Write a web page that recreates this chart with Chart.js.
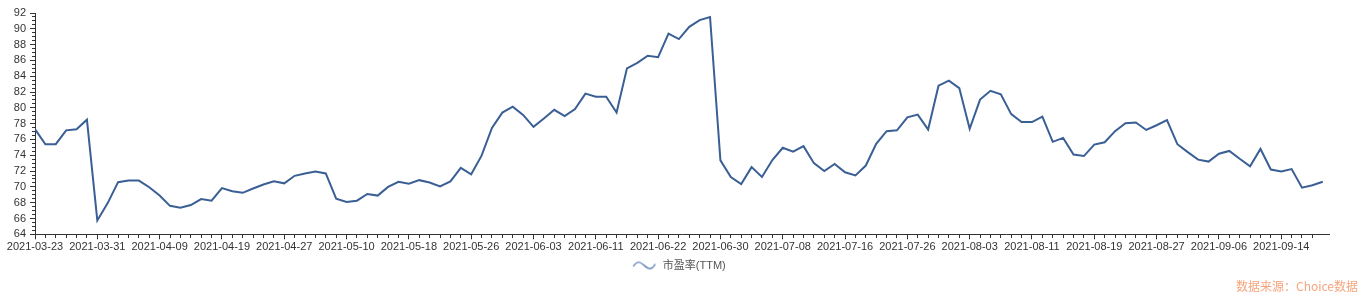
<!DOCTYPE html>
<html>
<head>
<meta charset="utf-8">
<script src="https://cdn.jsdelivr.net/npm/chart.js@4.4.0/dist/chart.umd.min.js"></script>
<style>
  html, body { margin: 0; padding: 0; background: #fff; }
  #wrap { position: relative; width: 1359px; height: 293px; }
  #source {
    position: absolute; right: 1px; top: 278px;
    font: 12px "Noto Sans CJK SC", "Liberation Sans", sans-serif;
    color: #f5a57c; line-height: 16px;
  }
</style>
</head>
<body>
<div id="wrap">
  <canvas id="peChart" width="1359" height="293"></canvas>
  <div id="source">数据来源：Choice数据</div>
</div>
<script>
// ================= DATA =================
const dates = [
  "2021-03-23", "2021-03-24", "2021-03-25", "2021-03-26", "2021-03-29", "2021-03-30", "2021-03-31",
  "2021-04-01", "2021-04-02", "2021-04-06", "2021-04-07", "2021-04-08", "2021-04-09",
  "2021-04-12", "2021-04-13", "2021-04-14", "2021-04-15", "2021-04-16", "2021-04-19",
  "2021-04-20", "2021-04-21", "2021-04-22", "2021-04-23", "2021-04-26", "2021-04-27",
  "2021-04-28", "2021-04-29", "2021-04-30", "2021-05-06", "2021-05-07", "2021-05-10",
  "2021-05-11", "2021-05-12", "2021-05-13", "2021-05-14", "2021-05-17", "2021-05-18",
  "2021-05-19", "2021-05-20", "2021-05-21", "2021-05-24", "2021-05-25", "2021-05-26",
  "2021-05-27", "2021-05-28", "2021-05-31", "2021-06-01", "2021-06-02", "2021-06-03",
  "2021-06-04", "2021-06-07", "2021-06-08", "2021-06-09", "2021-06-10", "2021-06-11",
  "2021-06-15", "2021-06-16", "2021-06-17", "2021-06-18", "2021-06-21", "2021-06-22",
  "2021-06-23", "2021-06-24", "2021-06-25", "2021-06-28", "2021-06-29", "2021-06-30",
  "2021-07-01", "2021-07-02", "2021-07-05", "2021-07-06", "2021-07-07", "2021-07-08",
  "2021-07-09", "2021-07-12", "2021-07-13", "2021-07-14", "2021-07-15", "2021-07-16",
  "2021-07-19", "2021-07-20", "2021-07-21", "2021-07-22", "2021-07-23", "2021-07-26",
  "2021-07-27", "2021-07-28", "2021-07-29", "2021-07-30", "2021-08-02", "2021-08-03",
  "2021-08-04", "2021-08-05", "2021-08-06", "2021-08-09", "2021-08-10", "2021-08-11",
  "2021-08-12", "2021-08-13", "2021-08-16", "2021-08-17", "2021-08-18", "2021-08-19",
  "2021-08-20", "2021-08-23", "2021-08-24", "2021-08-25", "2021-08-26", "2021-08-27",
  "2021-08-30", "2021-08-31", "2021-09-01", "2021-09-02", "2021-09-03", "2021-09-06",
  "2021-09-07", "2021-09-08", "2021-09-09", "2021-09-10", "2021-09-13", "2021-09-14",
  "2021-09-15", "2021-09-16", "2021-09-17", "2021-09-22"
];

const peTTM = [
  77.3, 75.4, 75.4, 77.15, 77.3, 78.5, 65.75,
  67.95, 70.6, 70.8, 70.8, 69.95, 68.9,
  67.6, 67.35, 67.7, 68.45, 68.25, 69.85,
  69.45, 69.25, 69.8, 70.3, 70.7, 70.45,
  71.4, 71.7, 71.95, 71.7, 68.5, 68.1,
  68.25, 69.1, 68.9, 70.0, 70.65, 70.4,
  70.85, 70.55, 70.05, 70.7, 72.4, 71.6,
  73.95, 77.45, 79.4, 80.15, 79.1, 77.6,
  78.65, 79.75, 78.95, 79.85, 81.8, 81.4,
  81.4, 79.4, 85.0, 85.7, 86.6, 86.4,
  89.4, 88.7, 90.25, 91.1, 91.5, 73.35,
  71.25, 70.35, 72.5, 71.25, 73.4, 74.95,
  74.45, 75.15, 73.0, 72.0, 72.9, 71.85,
  71.45, 72.7, 75.45, 77.05, 77.15, 78.8,
  79.15, 77.25, 82.8, 83.45, 82.5, 77.35,
  81.05, 82.15, 81.7, 79.2, 78.2, 78.2,
  78.9, 75.7, 76.2, 74.1, 73.9, 75.35,
  75.65, 77.05, 78.05, 78.15, 77.2, 77.8,
  78.45, 75.4, 74.4, 73.45, 73.2, 74.2,
  74.55, 73.55, 72.6, 74.8, 72.2, 71.95,
  72.25, 69.9, 70.2, 70.65
];

const seriesName = "市盈率(TTM)";
const yMin = 64;
const yMax = 92;
const yLabelStep = 2;      // labelled ticks
const yMinorStep = 0.5;    // small ticks
const xLabelEvery = 6;     // every 6th trading day gets a date

// ================= STYLE =================
const lineColor = "#3a5f95";
const axisColor = "#333";
const fontFamily = '"Liberation Sans", Arial, "Noto Sans CJK SC", sans-serif';

// wave icon for the legend (drawn in the right part of a wider box,
// so the legend row sits where the original has it)
const wave = document.createElement("canvas");
wave.width = 52;
wave.height = 10;
(function () {
  const c = wave.getContext("2d");
  c.strokeStyle = "#4a6fa5";
  c.lineWidth = 1.2;
  c.beginPath();
  c.moveTo(29, 6);
  c.bezierCurveTo(33, -0.5, 36, 1.5, 40, 5);
  c.bezierCurveTo(44, 8.5, 47, 10.5, 51, 3.5);
  c.stroke();
})();

const points = peTTM.map((v, i) => ({ x: i, y: v }));

// ================= CHART =================
new Chart(document.getElementById("peChart"), {
  type: "line",
  data: {
    datasets: [
      {
        label: seriesName,
        data: points,
        borderColor: lineColor,
        borderWidth: 2,
        pointRadius: 0,
        tension: 0,
        fill: false,
      },
    ],
  },
  options: {
    responsive: false,
    animation: false,
    layout: { padding: { top: 13, right: 30, bottom: 12, left: 0 } },
    plugins: {
      tooltip: { enabled: false },
      legend: {
        position: "bottom",
        labels: {
          usePointStyle: true,
          pointStyle: wave,
          pointStyleWidth: 54,
          padding: 8,
          color: "#555",
          font: { family: fontFamily, size: 11 },
        },
      },
    },
    scales: {
      x: {
        type: "linear",
        min: 0,
        max: dates.length - 1 + 0.6,
        afterBuildTicks: (scale) => {
          scale.ticks = scale.ticks.filter((t) => Number.isInteger(t.value));
        },
        afterFit: (scale) => {
          scale.height = scale.height - 2.5;
        },
        border: { color: axisColor, width: 1 },
        grid: {
          drawOnChartArea: false,
          tickLength: 5,
          tickColor: axisColor,
          tickBorderDash: (ctx) =>
            ctx.tick && ctx.tick.value % xLabelEvery === 0 ? [] : [3, 10],
        },
        ticks: {
          stepSize: 1,
          maxTicksLimit: 1000,
          autoSkip: false,
          maxRotation: 0,
          padding: 1,
          color: axisColor,
          font: { family: fontFamily, size: 11 },
          callback: (v) => (v % xLabelEvery === 0 ? dates[v] : ""),
        },
      },
      y: {
        min: yMin,
        max: yMax,
        afterFit: (scale) => {
          scale.width = 35;
        },
        border: { color: axisColor, width: 1 },
        grid: {
          drawOnChartArea: false,
          tickLength: 5,
          tickColor: axisColor,
          tickBorderDash: (ctx) =>
            ctx.tick && ctx.tick.value % yLabelStep === 0 ? [] : [0, 2, 3, 10],
        },
        ticks: {
          stepSize: yMinorStep,
          maxTicksLimit: 1000,
          autoSkip: false,
          padding: 4,
          color: axisColor,
          font: { family: fontFamily, size: 11 },
          callback: (v) => (v % yLabelStep === 0 ? v : ""),
        },
      },
    },
  },
});
</script>
</body>
</html>
